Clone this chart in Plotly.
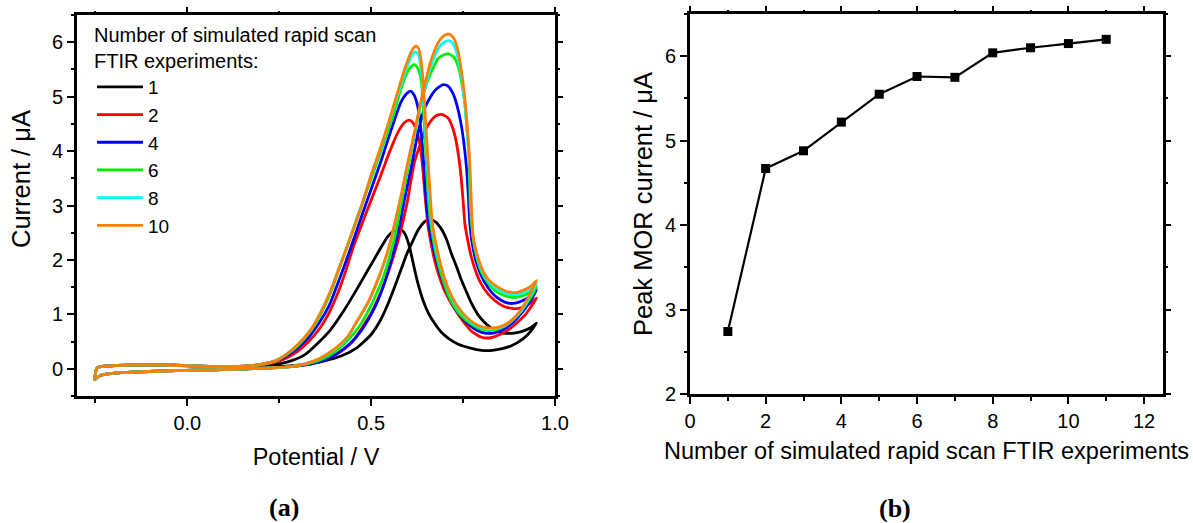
import plotly.graph_objects as go

# ---------------- Panel (a): cyclic voltammograms ----------------
# shared double-layer region (forward = upper, reverse = lower)
base_fwd_v = [-0.252, -0.248, -0.242, -0.225, -0.19, -0.14, -0.09, -0.04, 0.01, 0.06, 0.11, 0.16]
base_fwd_i = [-0.22, -0.02, 0.03, 0.05, 0.06, 0.07, 0.07, 0.065, 0.055, 0.045, 0.04, 0.05]
base_rev_v = [0.16, 0.12, 0.07, 0.02, -0.03, -0.08, -0.13, -0.18, -0.21, -0.235, -0.246]
base_rev_i = [0.0, -0.01, -0.02, -0.025, -0.035, -0.045, -0.055, -0.07, -0.09, -0.12, -0.17]

# oxidation region, loop order: rise -> 1st peak -> valley -> 0.95 V -> valley -> 2nd peak -> back down
cv1_v = [0.20, 0.25, 0.28, 0.32, 0.352, 0.39, 0.425, 0.46, 0.49, 0.52, 0.544, 0.56, 0.576, 0.588, 0.597,
         0.605, 0.613, 0.621, 0.63, 0.642, 0.656, 0.672, 0.691, 0.712, 0.737, 0.77, 0.80, 0.83, 0.856, 0.88,
         0.90, 0.925, 0.95, 0.935, 0.92, 0.90, 0.88, 0.856, 0.83, 0.81, 0.79, 0.773, 0.76, 0.746, 0.732,
         0.718, 0.705, 0.69, 0.675, 0.66, 0.645, 0.627, 0.61, 0.597, 0.58, 0.563, 0.545, 0.526, 0.50,
         0.462, 0.42, 0.37, 0.32, 0.27, 0.20]
cv1_i = [0.06, 0.09, 0.14, 0.26, 0.45, 0.72, 1.06, 1.45, 1.80, 2.15, 2.42, 2.53, 2.57, 2.52, 2.40,
         2.22, 1.98, 1.74, 1.50, 1.24, 1.02, 0.84, 0.67, 0.55, 0.45, 0.38, 0.34, 0.34, 0.37, 0.42,
         0.49, 0.62, 0.84, 0.76, 0.71, 0.67, 0.65, 0.66, 0.73, 0.84, 1.00, 1.20, 1.40, 1.62, 1.88,
         2.12, 2.38, 2.58, 2.70, 2.74, 2.70, 2.54, 2.30, 2.11, 1.80, 1.49, 1.18, 0.90, 0.63,
         0.39, 0.24, 0.14, 0.08, 0.05, 0.03]

cv2_v = [0.20, 0.24, 0.27, 0.30, 0.33, 0.36, 0.385, 0.41, 0.43, 0.452, 0.48, 0.507, 0.526, 0.544, 0.56,
         0.575, 0.59, 0.604, 0.614,
         0.622, 0.631, 0.637, 0.641, 0.645, 0.649, 0.654, 0.663, 0.673, 0.686, 0.70, 0.718, 0.737, 0.755,
         0.773, 0.80, 0.825, 0.847, 0.87, 0.892, 0.92, 0.95,
         0.935, 0.92, 0.90, 0.883, 0.86, 0.837, 0.815, 0.80, 0.785, 0.773, 0.763, 0.755, 0.75, 0.745,
         0.739, 0.732, 0.723, 0.71, 0.694, 0.68, 0.668, 0.655, 0.645, 0.632, 0.618, 0.608, 0.599, 0.588,
         0.575, 0.56, 0.54, 0.526, 0.50, 0.475, 0.452, 0.42, 0.38, 0.33, 0.27, 0.20]
cv2_i = [0.07, 0.12, 0.20, 0.32, 0.50, 0.74, 1.02, 1.40, 1.78, 2.25, 2.75, 3.22, 3.55, 3.88, 4.15,
         4.37, 4.52, 4.57, 4.52,
         4.40, 4.19, 3.90, 3.64, 3.30, 3.00, 2.66, 2.30, 1.98, 1.68, 1.43, 1.20, 1.00, 0.83,
         0.69, 0.58, 0.57, 0.62, 0.70, 0.82, 1.00, 1.30,
         1.22, 1.15, 1.11, 1.11, 1.15, 1.25, 1.40, 1.55, 1.78, 2.04, 2.35, 2.66, 3.09, 3.50,
         3.85, 4.15, 4.40, 4.60, 4.67, 4.66, 4.60, 4.48, 4.35, 4.10, 3.80, 3.45, 3.09, 2.75,
         2.40, 2.05, 1.65, 1.40, 1.02, 0.75, 0.52, 0.33, 0.18, 0.08, 0.03, 0.01]

cv4_v = [0.20, 0.24, 0.27, 0.30, 0.33, 0.36, 0.385, 0.40, 0.425, 0.45, 0.475, 0.50, 0.526, 0.554, 0.581,
         0.597, 0.607, 0.616,
         0.623, 0.63, 0.636, 0.641, 0.645, 0.649, 0.655, 0.665, 0.677, 0.69, 0.705, 0.725, 0.745, 0.77,
         0.79, 0.81, 0.835, 0.86, 0.885, 0.91, 0.93, 0.95,
         0.935, 0.92, 0.90, 0.885, 0.865, 0.84, 0.82, 0.80, 0.785, 0.775, 0.768, 0.765, 0.76, 0.753,
         0.746, 0.735, 0.723, 0.71, 0.696, 0.685, 0.673, 0.66, 0.645, 0.627, 0.609, 0.59,
         0.578, 0.565, 0.55, 0.535, 0.52, 0.50, 0.475, 0.445, 0.41, 0.37, 0.32, 0.26, 0.20]
cv4_i = [0.08, 0.14, 0.24, 0.38, 0.58, 0.86, 1.15, 1.40, 1.85, 2.33, 2.82, 3.30, 3.80, 4.38, 4.90,
         5.06, 5.10, 5.04,
         4.92, 4.70, 4.35, 3.95, 3.55, 3.15, 2.75, 2.35, 2.00, 1.70, 1.42, 1.15, 0.95, 0.79,
         0.70, 0.655, 0.66, 0.72, 0.85, 1.03, 1.22, 1.45,
         1.35, 1.28, 1.22, 1.20, 1.22, 1.32, 1.47, 1.70, 1.98, 2.30, 2.70, 3.09, 3.64, 4.10,
         4.44, 4.80, 5.05, 5.19, 5.22, 5.18, 5.11, 4.98, 4.78, 4.32, 3.70, 3.09,
         2.65, 2.25, 1.88, 1.55, 1.28, 1.00, 0.72, 0.48, 0.29, 0.15, 0.07, 0.03, 0.01]

cv6_v = [0.20, 0.24, 0.27, 0.30, 0.334, 0.36, 0.39, 0.41, 0.435, 0.46, 0.485, 0.51, 0.535, 0.563, 0.58,
         0.595, 0.608, 0.618, 0.627,
         0.634, 0.639, 0.643, 0.647, 0.65, 0.653, 0.657, 0.663, 0.672, 0.683, 0.697, 0.715, 0.735, 0.76,
         0.785, 0.81, 0.835, 0.86, 0.885, 0.91, 0.93, 0.95,
         0.935, 0.92, 0.90, 0.885, 0.865, 0.84, 0.82, 0.80, 0.787, 0.778, 0.772, 0.769, 0.766, 0.76,
         0.755, 0.745, 0.737, 0.724, 0.709, 0.695, 0.682, 0.668, 0.654, 0.64, 0.631, 0.613, 0.59,
         0.578, 0.565, 0.55, 0.535, 0.517, 0.495, 0.47, 0.44, 0.405, 0.365, 0.32, 0.27, 0.20]
cv6_i = [0.08, 0.14, 0.26, 0.42, 0.68, 0.97, 1.40, 1.78, 2.25, 2.74, 3.21, 3.68, 4.17, 4.72, 5.12,
         5.40, 5.55, 5.59, 5.52,
         5.38, 5.10, 4.68, 4.20, 3.82, 3.40, 3.00, 2.62, 2.25, 1.92, 1.60, 1.28, 1.05, 0.88,
         0.77, 0.71, 0.71, 0.77, 0.90, 1.08, 1.27, 1.50,
         1.42, 1.36, 1.32, 1.31, 1.34, 1.42, 1.56, 1.78, 2.05, 2.38, 2.75, 3.09, 3.95, 4.45,
         4.87, 5.30, 5.55, 5.73, 5.79, 5.76, 5.70, 5.52, 5.30, 5.00, 4.75, 4.13, 3.33,
         2.90, 2.45, 2.05, 1.72, 1.42, 1.10, 0.80, 0.55, 0.33, 0.17, 0.08, 0.03, 0.01]

cv8_v = [0.20, 0.24, 0.27, 0.30, 0.334, 0.36, 0.389, 0.41, 0.435, 0.46, 0.48, 0.50, 0.526, 0.55, 0.572,
         0.59, 0.605, 0.615, 0.622, 0.629,
         0.635, 0.64, 0.644, 0.648, 0.652, 0.656, 0.66, 0.665, 0.674, 0.685, 0.699, 0.717, 0.738, 0.762,
         0.788, 0.818, 0.848, 0.873, 0.895, 0.912, 0.93, 0.95,
         0.935, 0.92, 0.90, 0.885, 0.865, 0.845, 0.828, 0.812, 0.80, 0.788, 0.778, 0.774, 0.771, 0.767,
         0.761, 0.754, 0.745, 0.734, 0.723, 0.712, 0.698, 0.686, 0.674, 0.663, 0.645, 0.63, 0.618, 0.605,
         0.595, 0.585, 0.576,
         0.565, 0.553, 0.535, 0.517, 0.49, 0.462, 0.435, 0.40, 0.36, 0.32, 0.28, 0.20]
cv8_i = [0.08, 0.15, 0.27, 0.44, 0.70, 1.00, 1.42, 1.80, 2.25, 2.72, 3.11, 3.55, 4.05, 4.55, 5.03,
         5.40, 5.68, 5.80, 5.82, 5.76,
         5.55, 5.20, 4.80, 4.35, 3.90, 3.45, 3.05, 2.66, 2.30, 1.98, 1.66, 1.34, 1.09, 0.91,
         0.79, 0.73, 0.75, 0.83, 0.96, 1.10, 1.32, 1.57,
         1.48, 1.42, 1.37, 1.36, 1.39, 1.46, 1.55, 1.67, 1.83, 2.07, 2.38, 2.73, 3.10, 3.80,
         4.38, 4.90, 5.38, 5.78, 5.97, 6.03, 6.00, 5.92, 5.77, 5.58, 5.12, 4.70, 4.30, 3.92,
         3.60, 3.27, 2.99,
         2.68, 2.33, 1.93, 1.60, 1.19, 0.87, 0.57, 0.35, 0.19, 0.09, 0.04, 0.01]

cv10_v = [0.20, 0.24, 0.27, 0.30, 0.334, 0.36, 0.389, 0.41, 0.435, 0.46, 0.48, 0.50, 0.526, 0.55, 0.572,
          0.59, 0.605, 0.616, 0.623, 0.63,
          0.636, 0.641, 0.645, 0.649, 0.653, 0.657, 0.661, 0.666, 0.675, 0.686, 0.70, 0.718, 0.74, 0.764,
          0.79, 0.819, 0.85, 0.874, 0.895, 0.911, 0.93, 0.95,
          0.935, 0.92, 0.90, 0.885, 0.865, 0.845, 0.828, 0.812, 0.80, 0.788, 0.778, 0.774, 0.772, 0.768,
          0.762, 0.755, 0.746, 0.735, 0.724, 0.712, 0.698, 0.686, 0.674, 0.663, 0.645, 0.63, 0.618, 0.605,
          0.595, 0.585, 0.576,
          0.565, 0.553, 0.535, 0.517, 0.49, 0.462, 0.435, 0.40, 0.36, 0.32, 0.28, 0.20]
cv10_i = [0.08, 0.15, 0.27, 0.44, 0.70, 1.00, 1.42, 1.80, 2.25, 2.72, 3.12, 3.56, 4.07, 4.58, 5.08,
          5.48, 5.76, 5.90, 5.93, 5.87,
          5.65, 5.30, 4.90, 4.45, 4.00, 3.55, 3.15, 2.70, 2.33, 2.00, 1.65, 1.35, 1.10, 0.92,
          0.80, 0.75, 0.77, 0.85, 0.98, 1.12, 1.35, 1.62,
          1.52, 1.46, 1.41, 1.40, 1.43, 1.50, 1.58, 1.70, 1.86, 2.10, 2.40, 2.75, 3.10, 3.80,
          4.40, 4.95, 5.45, 5.88, 6.08, 6.15, 6.12, 6.03, 5.87, 5.67, 5.20, 4.75, 4.35, 3.95,
          3.64, 3.30, 3.02,
          2.70, 2.35, 1.95, 1.62, 1.20, 0.88, 0.58, 0.36, 0.19, 0.09, 0.04, 0.01]

cv_names = ["1", "2", "4", "6", "8", "10"]
cv_colors = ["#000000", "#ff0000", "#0000ff", "#00ee00", "#00ffff", "#ff8000"]

# ---------------- Panel (b): peak current ----------------
n_experiments = [1, 2, 3, 4, 5, 6, 7, 8, 9, 10, 11]
peak_current = [2.74, 4.67, 4.88, 5.22, 5.55, 5.76, 5.75, 6.04, 6.10, 6.15, 6.20]

W, H = 1193, 523
fig = go.Figure()

cv_series = [(cv1_v, cv1_i), (cv2_v, cv2_i), (cv4_v, cv4_i),
             (cv6_v, cv6_i), (cv8_v, cv8_i), (cv10_v, cv10_i)]
for (v, i), name, col in zip(cv_series, cv_names, cv_colors):
    fig.add_trace(go.Scatter(
        x=base_fwd_v + v + base_rev_v,
        y=base_fwd_i + i + base_rev_i,
        mode="lines", name=name,
        line=dict(color=col, width=2.8, shape="spline", smoothing=0.6),
        xaxis="x", yaxis="y"))

fig.add_trace(go.Scatter(
    x=n_experiments, y=peak_current, mode="lines+markers", showlegend=False,
    line=dict(color="black", width=2.2),
    marker=dict(symbol="square", size=9, color="black"),
    xaxis="x2", yaxis="y2"))

FONT = "Liberation Sans, Arial, sans-serif"
tickfont = dict(family=FONT, size=20, color="black")
titlefont = dict(family=FONT, size=23.5, color="black")
ytitlefont = dict(family=FONT, size=25.5, color="black")
labelfont = dict(family="Liberation Serif, DejaVu Serif, serif", size=26, color="black")

MAJ, MINL = 7, 3.5


def axis(**kw):
    d = dict(showline=True, linecolor="black", linewidth=3, mirror=True,
             ticks="outside", ticklen=MAJ, tickwidth=2, tickcolor="black",
             showgrid=False, zeroline=False, tickfont=tickfont, automargin=False,
             minor=dict(ticks="outside", ticklen=MINL, tickwidth=2, tickcolor="black", showgrid=False))
    d.update(kw)
    return d


def mirror_axis(**kw):
    d = dict(showline=False, ticks="outside", ticklen=MAJ, tickwidth=2, tickcolor="black",
             showticklabels=False, showgrid=False, zeroline=False, automargin=False,
             minor=dict(ticks="outside", ticklen=MINL, tickwidth=2, tickcolor="black", showgrid=False))
    d.update(kw)
    return d


XA = [77 / W, 555 / W]
YA = [1 - 396 / H, 1 - 15 / H]
XB = [690 / W, 1163 / W]
YB = [1 - 394 / H, 1 - 14 / H]

fig.update_layout(
    width=W, height=H, margin=dict(l=0, r=0, t=0, b=0),
    paper_bgcolor="white", plot_bgcolor="white",
    xaxis=axis(domain=XA, range=[-0.3, 1.0], tick0=0, dtick=0.5, tickformat=".1f",
               minor_dtick=0.25, anchor="y",
               title=dict(text="Potential / V", font=titlefont, standoff=16)),
    yaxis=axis(domain=YA, range=[-0.5, 6.5], tick0=0, dtick=1, minor_dtick=0.5, anchor="x"),
    xaxis2=axis(domain=XB, range=[0, 12.5], tick0=0, dtick=2, minor_dtick=1, anchor="y2",
                title=dict(text="Number of simulated rapid scan FTIR experiments", font=titlefont, standoff=12)),
    yaxis2=axis(domain=YB, range=[2, 6.5], tick0=2, dtick=1, minor_dtick=0.5, anchor="x2",
                title=dict(text="Peak MOR current / μA", font=ytitlefont, standoff=5)),
    # mirrored tick marks on top / right edges
    xaxis3=mirror_axis(domain=XA, range=[-0.3, 1.0], tick0=0, dtick=0.5, minor_dtick=0.25,
                       overlaying="x", side="top", anchor="y"),
    yaxis3=mirror_axis(domain=YA, range=[-0.5, 6.5], tick0=0, dtick=1, minor_dtick=0.5,
                       overlaying="y", side="right", anchor="x"),
    xaxis4=mirror_axis(domain=XB, range=[0, 12.5], tick0=0, dtick=2, minor_dtick=1,
                       overlaying="x2", side="top", anchor="y2"),
    yaxis4=mirror_axis(domain=YB, range=[2, 6.5], tick0=2, dtick=1, minor_dtick=0.5,
                       overlaying="y2", side="right", anchor="x2"),
    legend=dict(x=92 / W, y=1 - 16 / H, xanchor="left", yanchor="top",
                bgcolor="rgba(0,0,0,0)", font=dict(family=FONT, size=19, color="black"),
                title=dict(text="Number of simulated rapid scan<br>FTIR experiments:",
                           font=dict(family=FONT, size=20, color="black"), side="top"),
                itemwidth=46, tracegroupgap=0),
    annotations=[
        dict(text="Current / μA", textangle=-90, x=21 / W, y=1 - 179 / H, xref="paper", yref="paper",
             xanchor="center", yanchor="middle", showarrow=False, font=ytitlefont),
        dict(text="<b>(a)</b>", x=284 / W, y=1 - 507 / H, xref="paper", yref="paper",
             xanchor="center", yanchor="middle", showarrow=False, font=labelfont),
        dict(text="<b>(b)</b>", x=895 / W, y=1 - 508 / H, xref="paper", yref="paper",
             xanchor="center", yanchor="middle", showarrow=False, font=labelfont),
    ],
)

# invisible helper traces so the mirrored tick axes are drawn
fig.add_trace(go.Scatter(x=[None], y=[None], xaxis="x3", yaxis="y3", showlegend=False, hoverinfo="skip"))
fig.add_trace(go.Scatter(x=[None], y=[None], xaxis="x4", yaxis="y4", showlegend=False, hoverinfo="skip"))

fig.write_html("out.html")
